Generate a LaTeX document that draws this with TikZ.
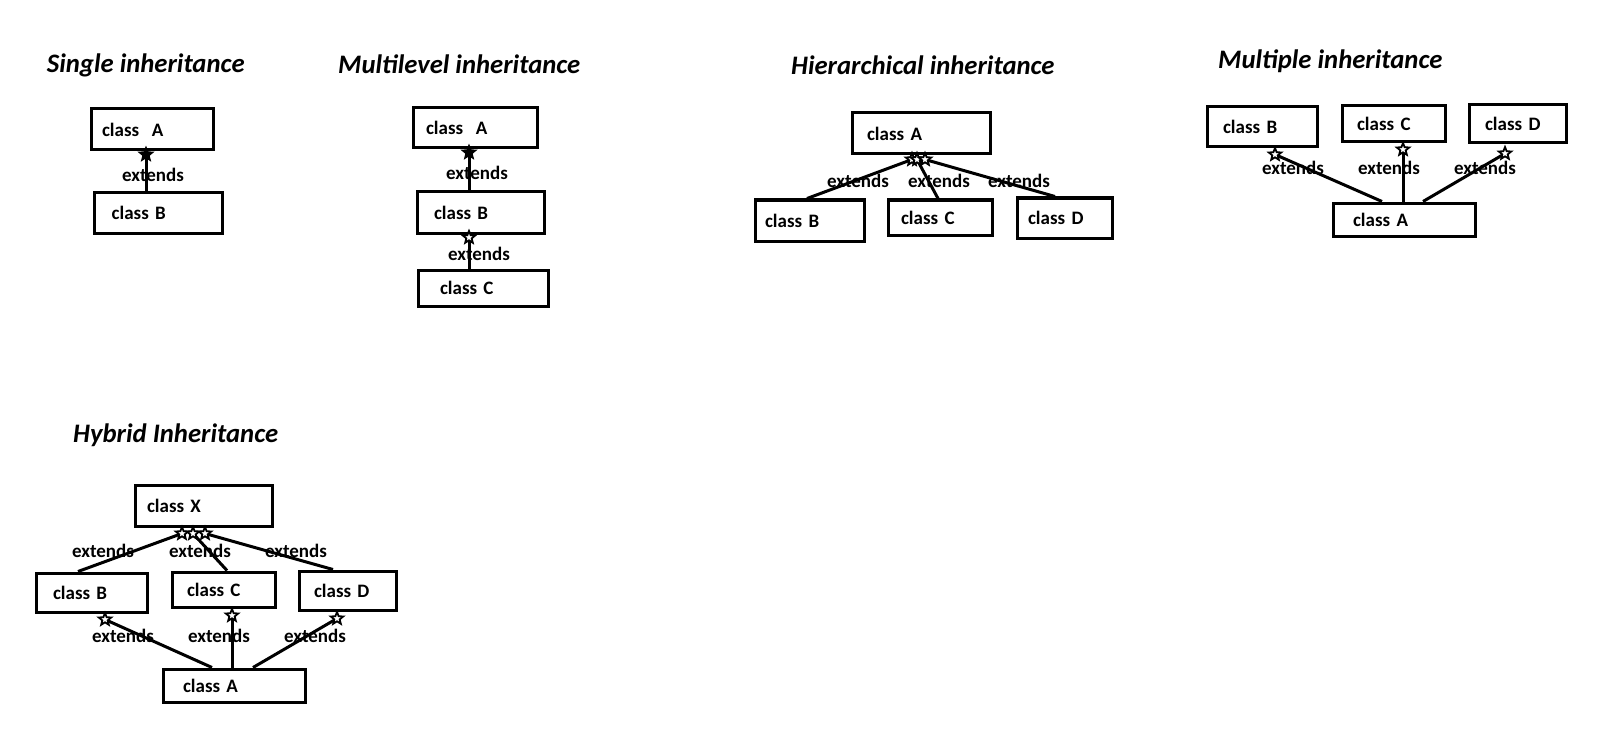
\documentclass[tikz,border=0pt]{standalone}
\usepackage{fontspec}
\setmainfont{Carlito}
\usetikzlibrary{shapes.geometric,calc}
\tikzset{
  cls/.style={draw, line width=3pt, inner ysep=0pt, align=left,
    font=\fontsize{19}{22}\selectfont\bfseries},
  title/.style={anchor=base west, inner sep=0pt,
    font=\fontsize{26.7}{30}\selectfont\bfseries\itshape},
  ext/.style={anchor=base, inner sep=0pt, font=\fontsize{19}{22}\selectfont\bfseries},
  conn/.style={line width=3pt},
  tipstar/.style={star, star points=5, star point ratio=2.3, minimum size=13pt,
    inner sep=0pt, draw, line width=1.8pt, fill=white},
  tipfill/.style={tipstar, fill=black}
}
\begin{document}
\begin{tikzpicture}[x=1pt,y=-1pt]
\useasboundingbox (0,0) rectangle (1597,730);

% ---------- titles
\node[title] (t1) at (46.7,72.3) {Single inheritance};
\node[title] (t2) at (338,73.3) {Multilevel inheritance};
\node[title] (t3) at (791,75) {Hierarchical inheritance};
\node[title] (t4) at (1218,68.3) {Multiple inheritance};
\node[title] (t5) at (73,442) {Hybrid Inheritance};

% ---------- single
\node[cls, minimum height=41pt, inner xsep=11pt, text width=100pt] (sA) at (152,129.5) {class~~A};
\node[cls, minimum height=40pt, inner xsep=17.7pt, text width=92.6pt] (sB) at (158,213) {class B};
\coordinate (s1) at ([xshift=-6pt,yshift=-3pt]sA.south);
\draw[conn] ([xshift=-12pt]sB.north) -- (s1);
\node[tipfill] (s1t) at (s1) {};
\node[ext] (e1) at (153,182) {extends};

% ---------- multilevel
\node[cls, minimum height=40pt, inner xsep=13pt, text width=98pt] (mA) at (475,128) {class~~A};
\node[cls, minimum height=41pt, inner xsep=17pt, text width=93pt] (mB) at (480.5,212.5) {class B};
\node[cls, minimum height=36pt, inner xsep=22pt, text width=86pt] (mC) at (483,288) {class C};
\coordinate (m1) at ([xshift=-6pt,yshift=-3pt]mA.south);
\coordinate (m2) at ([xshift=-11.5pt,yshift=-3pt]mB.south);
\draw[conn] ([xshift=-11.5pt]mB.north) -- (m1);
\draw[conn] ([xshift=-14pt]mC.north) -- (m2);
\node[tipfill] (m1t) at (m1) {};
\node[tipstar] (m2t) at (m2) {};
\node[ext] (e2) at (477,180) {extends};
\node[ext] (e3) at (479,260) {extends};

% ---------- hierarchical
\node[cls, minimum height=41pt, inner xsep=15pt, text width=108pt] (hA) at (921,133.5) {class A};
\node[cls, minimum height=41pt, inner xsep=10pt, text width=89pt] (hB) at (809.5,220.5) {class B};
\node[cls, minimum height=35pt, inner xsep=13pt, text width=78pt] (hC) at (940,217.5) {class C};
\node[cls, minimum height=40pt, inner xsep=11pt, text width=73pt] (hD) at (1064.5,218) {class D};
\coordinate (h1) at ([xshift=-9pt,yshift=-4pt]hA.south);
\coordinate (h2) at ([xshift=-4pt,yshift=-4pt]hA.south);
\coordinate (h3) at ([xshift=4pt,yshift=-4pt]hA.south);
\draw[conn] ([xshift=-2.5pt]hB.north) -- (h1);
\draw[conn] ([xshift=-2pt]hC.north) -- (h2);
\draw[conn] ([xshift=-9.5pt]hD.north) -- (h3);
\node[tipstar] (h1t) at (h1) {};
\node[tipstar] (h2t) at (h2) {};
\node[tipstar] (h3t) at (h3) {};
\node[ext] (e4) at (858,187) {extends};
\node[ext] (e5) at (939,187) {extends};
\node[ext] (e6) at (1019,187) {extends};

% ---------- multiple
\node[cls, minimum height=40pt, inner xsep=16pt, text width=78pt] (uB) at (1262,127) {class B};
\node[cls, minimum height=36pt, inner xsep=15pt, text width=73pt] (uC) at (1393.5,124) {class C};
\node[cls, minimum height=38pt, inner xsep=16pt, text width=65pt] (uD) at (1517.5,124) {class D};
\node[cls, minimum height=33pt, inner xsep=20pt, text width=102pt] (uA) at (1404,219.5) {class A};
\coordinate (u1) at ([xshift=13pt,yshift=-6pt]uB.south);
\coordinate (u2) at ([xshift=9.5pt,yshift=-6pt]uC.south);
\coordinate (u3) at ([xshift=-12.5pt,yshift=-9pt]uD.south);
\draw[conn] ([xshift=-22pt]uA.north) -- (u1);
\draw[conn] ([xshift=-1pt]uA.north) -- (u2);
\draw[conn] ([xshift=19pt]uA.north) -- (u3);
\node[tipstar] (u1t) at (u1) {};
\node[tipstar] (u2t) at (u2) {};
\node[tipstar] (u3t) at (u3) {};
\node[ext] (e7) at (1293,175) {extends};
\node[ext] (e8) at (1389,175) {extends};
\node[ext] (e9) at (1485,175) {extends};

% ---------- hybrid
\node[cls, minimum height=41pt, inner xsep=12pt, text width=113pt] (yX) at (203.5,505.5) {class X};
\node[cls, minimum height=39pt, inner xsep=17pt, text width=77pt] (yB) at (91.5,592.5) {class B};
\node[cls, minimum height=35pt, inner xsep=15pt, text width=73pt] (yC) at (223.5,589.5) {class C};
\node[cls, minimum height=39pt, inner xsep=15pt, text width=67pt] (yD) at (347.5,590.5) {class D};
\node[cls, minimum height=33pt, inner xsep=20pt, text width=102pt] (yA) at (234,685.5) {class A};
\coordinate (y1) at ([xshift=-21.5pt,yshift=-6pt]yX.south);
\coordinate (y2) at ([xshift=-10.5pt,yshift=-6pt]yX.south);
\coordinate (y3) at ([xshift=1.5pt,yshift=-6pt]yX.south);
\coordinate (y4) at ([xshift=13.5pt,yshift=-6pt]yB.south);
\coordinate (y5) at ([xshift=8.5pt,yshift=-7pt]yC.south);
\coordinate (y6) at ([xshift=-10.5pt,yshift=-7pt]yD.south);
\draw[conn] ([xshift=-13.5pt]yB.north) -- (y1);
\draw[conn] ([xshift=3.5pt]yC.north) -- (y2);
\draw[conn] ([xshift=-14.5pt]yD.north) -- (y3);
\draw[conn] ([xshift=-22pt]yA.north) -- (y4);
\draw[conn] ([xshift=-2pt]yA.north) -- (y5);
\draw[conn] ([xshift=19pt]yA.north) -- (y6);
\node[tipstar] (y1t) at (y1) {};
\node[tipstar] (y2t) at (y2) {};
\node[tipstar] (y3t) at (y3) {};
\node[tipstar] (y4t) at (y4) {};
\node[tipstar] (y5t) at (y5) {};
\node[tipstar] (y6t) at (y6) {};
\node[ext] (e10) at (103,557) {extends};
\node[ext] (e11) at (200,557) {extends};
\node[ext] (e12) at (296,557) {extends};
\node[ext] (e13) at (123,642) {extends};
\node[ext] (e14) at (219,642) {extends};
\node[ext] (e15) at (315,642) {extends};
\end{tikzpicture}
\end{document}
